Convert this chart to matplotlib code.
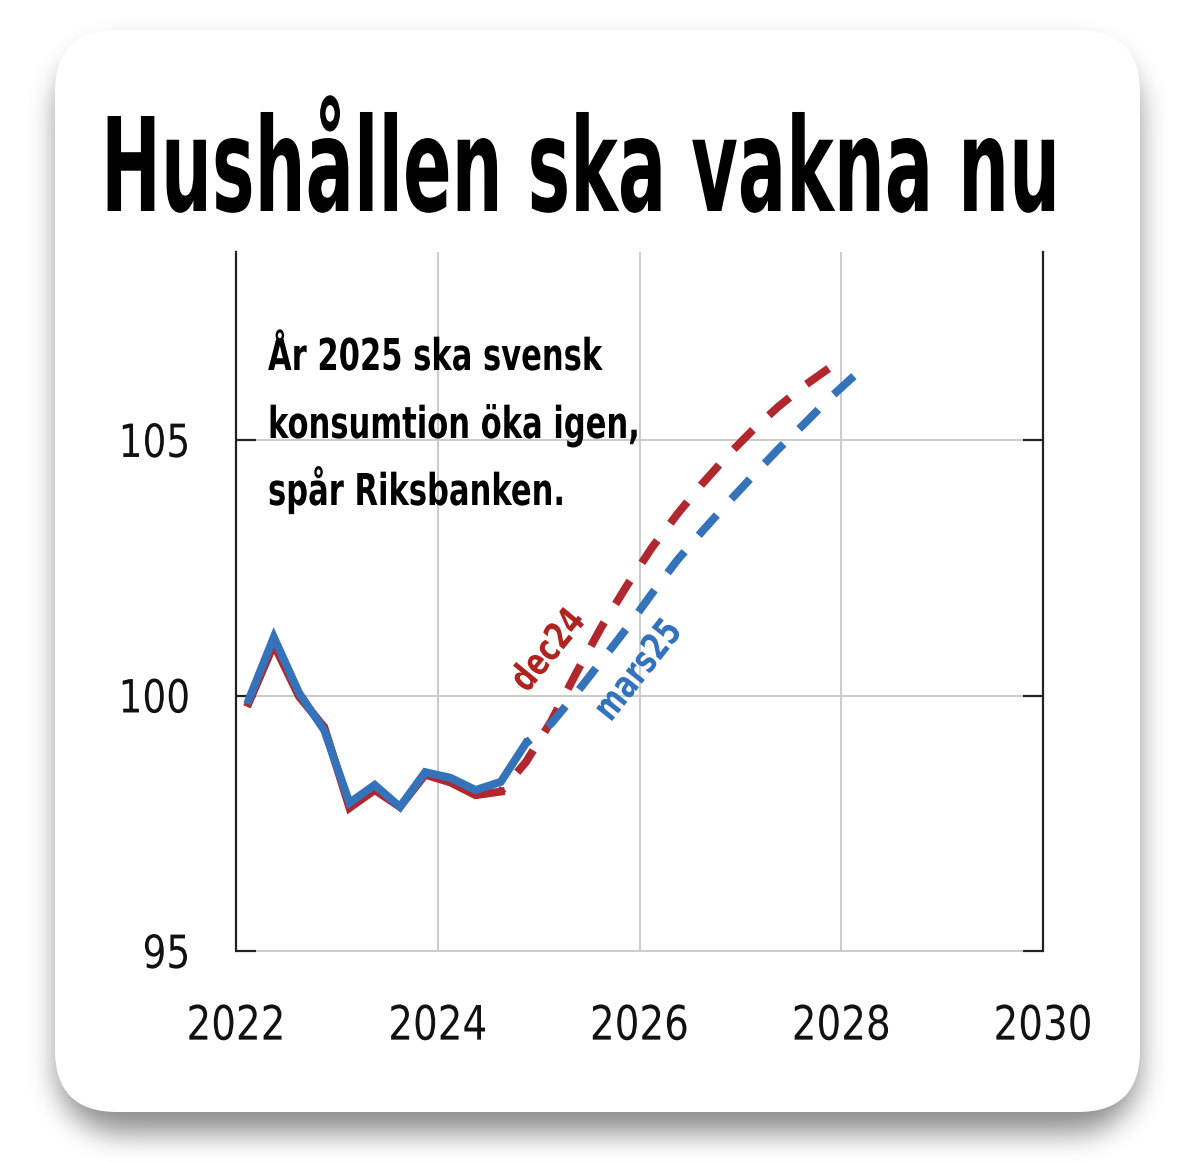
import numpy as np
import matplotlib
matplotlib.use("Agg")
import matplotlib.pyplot as plt
from matplotlib.patches import FancyBboxPatch
from matplotlib.patheffects import AbstractPathEffect
from matplotlib.transforms import Affine2D

# ---- data: household consumption index, Riksbank forecasts ----
quarters_outcome = ["2022Q1", "2022Q2", "2022Q3", "2022Q4", "2023Q1", "2023Q2",
                    "2023Q3", "2023Q4", "2024Q1", "2024Q2", "2024Q3", "2024Q4"]
dec24_outcome = [99.85, 101.00, 99.98, 99.38, 97.80, 98.15,
                 97.82, 98.45, 98.30, 98.05, 98.12]
mars25_outcome = [99.91, 101.14, 100.05, 99.32, 97.90, 98.25,
                  97.82, 98.50, 98.39, 98.15, 98.31, 99.07]

dec24_fc_quarters = ["2024Q3", "2024Q4", "2025Q1", "2025Q2", "2025Q3", "2025Q4",
                     "2026Q1", "2026Q2", "2026Q3", "2026Q4", "2027Q1", "2027Q2",
                     "2027Q3", "2027Q4"]
dec24_forecast = [98.12, 98.70, 99.50, 100.45, 101.35, 102.15,
                  102.90, 103.55, 104.15, 104.70, 105.20, 105.65,
                  106.05, 106.40]

mars25_fc_quarters = ["2024Q4", "2025Q1", "2025Q2", "2025Q3", "2025Q4", "2026Q1",
                      "2026Q2", "2026Q3", "2026Q4", "2027Q1", "2027Q2", "2027Q3",
                      "2027Q4", "2028Q1"]
mars25_forecast = [99.07, 99.45, 100.05, 100.68, 101.32, 102.00,
                   102.65, 103.22, 103.77, 104.30, 104.82, 105.30,
                   105.80, 106.25]

x_ticks = [2022, 2024, 2026, 2028, 2030]
y_ticks = [95, 100, 105]

title_text = "Hushållen ska vakna nu"
note_lines = ["År 2025 ska svensk", "konsumtion öka igen,", "spår Riksbanken."]
label_dec = "dec24"
label_mar = "mars25"

RED = "#b0282e"
BLUE = "#3473b9"


def qpos(labels):
    """Quarter label -> mid-quarter decimal year."""
    return [int(s[:4]) + (int(s[-1]) - 0.5) / 4 for s in labels]


class Tall(AbstractPathEffect):
    """Stretch glyphs vertically (in the text's own frame) for a condensed look."""

    def __init__(self, sy, pivot=0.0):
        super().__init__()
        self._sy = sy
        self._pivot = pivot  # glyph units (100 per em)

    def draw_path(self, renderer, gc, tpath, affine, rgbFace=None):
        pre = (Affine2D().translate(0, -self._pivot)
               .scale(1.0, self._sy).translate(0, self._pivot))
        renderer.draw_path(gc, tpath, pre + affine, rgbFace)


W, H, DPI = 1194, 1162, 100
fig = plt.figure(figsize=(W / DPI, H / DPI), dpi=DPI, facecolor="white")
PX = 72 / DPI  # points per pixel
renderer = fig.canvas.get_renderer()

# ---- background card with soft drop shadow ----
bg = fig.add_axes([0, 0, 1, 1], zorder=0)
bg.set_xlim(0, W)
bg.set_ylim(H, 0)
bg.axis("off")

cx0, cy0, cx1, cy1, rad = 55, 30, 1140, 1112, 62
yy, xx = np.mgrid[0:H, 0:W]


def rrect(x0, y0, x1, y1, r):
    ccx = np.clip(xx, x0 + r, x1 - r)
    ccy = np.clip(yy, y0 + r, y1 - r)
    return (((xx - ccx) ** 2 + (yy - ccy) ** 2) <= r * r).astype(float)


def box_blur(a, r, axis):
    pad = [(0, 0), (0, 0)]
    pad[axis] = (r + 1, r)
    p = np.pad(a, pad, mode="edge")
    c = np.cumsum(p, axis=axis)
    if axis == 0:
        return (c[2 * r + 1:] - c[:-2 * r - 1]) / (2 * r + 1)
    return (c[:, 2 * r + 1:] - c[:, :-2 * r - 1]) / (2 * r + 1)


sh = rrect(cx0 + 2, cy0 + 18, cx1 - 2, cy1 + 20, rad)
for _ in range(3):
    sh = box_blur(sh, 13, 0)
    sh = box_blur(sh, 13, 1)
rgba = np.zeros((H, W, 4))
rgba[..., 3] = 0.45 * sh
bg.imshow(rgba, extent=[0, W, H, 0], interpolation="bilinear", zorder=0)
card = FancyBboxPatch((cx0, cy0), cx1 - cx0, cy1 - cy0,
                      boxstyle=f"round,pad=0,rounding_size={rad}",
                      facecolor="white", edgecolor="none", zorder=1)
bg.add_patch(card)

BOLD = dict(family="DejaVu Sans", weight="bold")

# ---- title ----
title = fig.text(101 / W, 1 - 211 / H, title_text, fontsize=60, ha="left",
                 va="baseline", zorder=5, **BOLD)
bb = title.get_window_extent(renderer=renderer)
title.set_fontsize(title.get_fontsize() * 960 / bb.width)
cap_px = 0.729 * title.get_fontsize() / PX
title.set_path_effects([Tall(95 / cap_px)])

# ---- main chart ----
ax = fig.add_axes([236 / W, 1 - 951 / H, (1043 - 236) / W, (951 - 252) / H], zorder=2)
ax.patch.set_alpha(0)
ax.set_xlim(2022, 2030)
ax.set_ylim(95, 95 + (951 - 252) / 51.1)

grid_c = "#cccccc"
for yv in y_ticks[1:]:
    ax.axhline(yv, color=grid_c, lw=2 * PX, zorder=1)
for xv in x_ticks[1:-1]:
    ax.axvline(xv, color=grid_c, lw=2 * PX, zorder=1)

ax.spines["top"].set_visible(False)
for s in ("left", "right"):
    ax.spines[s].set_color("#222222")
    ax.spines[s].set_linewidth(2.2 * PX)
ax.spines["bottom"].set_color(grid_c)
ax.spines["bottom"].set_linewidth(2 * PX)
ax.spines["bottom"].set_zorder(1)

ax.set_xticks(x_ticks)
ax.set_xticklabels([str(v) for v in x_ticks])
ax.set_yticks(y_ticks)
ax.set_yticklabels([str(v) for v in y_ticks])
ax.tick_params(axis="x", length=0, pad=40, labelsize=28, labelcolor="#111111")
ax.tick_params(axis="y", direction="in", length=20 * PX, width=2.2 * PX,
               color="#222222", right=True, labelright=False, pad=33,
               labelsize=27, labelcolor="#111111")
for lab in ax.get_xticklabels() + ax.get_yticklabels():
    lab.set_family("DejaVu Sans")
    lab.set_path_effects([Tall(1.22, pivot=36)])

LW_PX = 8
lw = LW_PX * PX
dash_on, dash_off = 3.4, 2.7  # in line widths


def dash_style(xs, ys):
    """Dash pattern phased so the series finishes on a complete dash."""
    pts = ax.transData.transform(np.column_stack([xs, ys]))
    length = np.hypot(*np.diff(pts, axis=0).T).sum() / LW_PX
    period = dash_on + dash_off
    offset = (dash_on - length) % period
    return (offset, (dash_on, dash_off))


xd, xm = qpos(dec24_fc_quarters), qpos(mars25_fc_quarters)
ax.plot(xd, dec24_forecast, color=RED, lw=lw,
        ls=dash_style(xd, dec24_forecast), dash_capstyle="butt", zorder=4)
ax.plot(xm, mars25_forecast, color=BLUE, lw=lw,
        ls=dash_style(xm, mars25_forecast), dash_capstyle="butt", zorder=5)
ax.plot(qpos(quarters_outcome[:len(dec24_outcome)]), dec24_outcome, color=RED,
        lw=lw, solid_joinstyle="miter", zorder=6)
ax.plot(qpos(quarters_outcome), mars25_outcome, color=BLUE, lw=lw,
        solid_joinstyle="miter", zorder=7)


def px2data(px, py):
    x = 2022 + (px - 236) / ((1043 - 236) / 8)
    y = 95 + (951 - py) / 51.1
    return x, y


# series labels along the forecast paths
for txt, col, (px, py), rot in ((label_dec, "#b02420", (548, 650), 50.5),
                                (label_mar, "#3472bd", (638, 670), 51.5)):
    t = ax.text(*px2data(px, py), txt, color=col, fontsize=20, rotation=rot,
                rotation_mode="anchor", ha="center", va="center", zorder=8, **BOLD)
    t.set_path_effects([Tall(1.35, pivot=36)])

# explanatory note, one text per line on fixed baselines
note_baselines = [370, 438, 505]
note_texts = [ax.text(*px2data(268, yb), line, fontsize=20, ha="left",
                      va="baseline", zorder=8, **BOLD)
              for line, yb in zip(note_lines, note_baselines)]
wmax = max(t.get_window_extent(renderer=renderer).width for t in note_texts)
note_fs = 20 * 372 / wmax
note_cap = 0.729 * note_fs / PX
for t in note_texts:
    t.set_fontsize(note_fs)
    t.set_path_effects([Tall(32 / note_cap)])

fig.savefig("out.png", dpi=DPI, facecolor="white")
